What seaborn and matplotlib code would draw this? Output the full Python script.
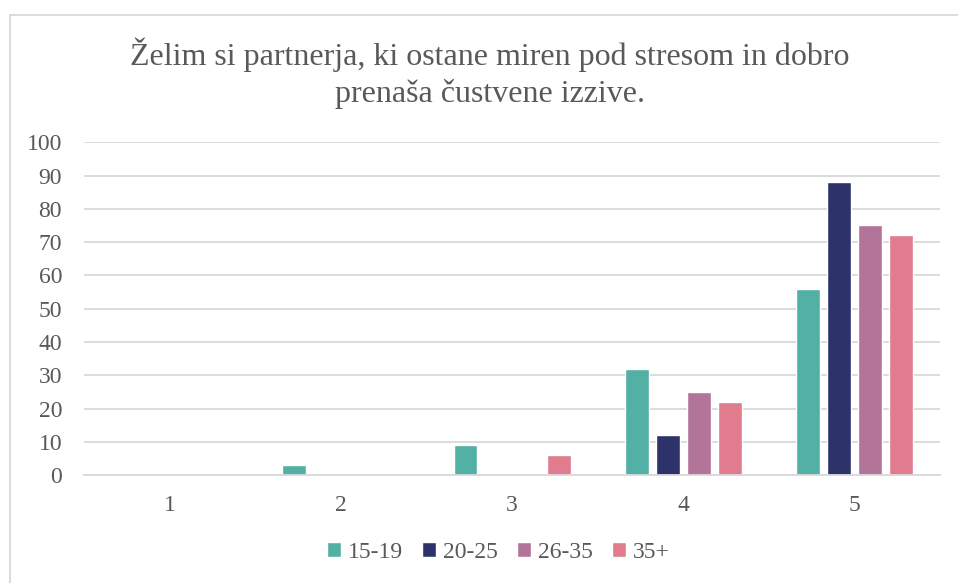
import pandas as pd
import matplotlib.pyplot as plt
import seaborn as sns
from matplotlib.patches import Rectangle


# Chart values
categories = ["1", "2", "3", "4", "5"]
age_groups = ["15-19", "20-25", "26-35", "35+"]
values_15_19 = [0, 3, 9, 32, 56]
values_20_25 = [0, 0, 0, 12, 88]
values_26_35 = [0, 0, 0, 25, 75]
values_35_plus = [0, 0, 6, 22, 72]
colors = ["#52B0A5", "#2E326B", "#B27499", "#E17B8E"]
title_lines = ["Želim si partnerja, ki ostane miren pod stresom in dobro", "prenaša čustvene izzive."]


def build_frame():
    rows = []
    for group, vals in zip(age_groups, [values_15_19, values_20_25, values_26_35, values_35_plus]):
        for cat, v in zip(categories, vals):
            rows.append({"Ocena": cat, "Starost": group, "Delež": v})
    return pd.DataFrame(rows)


def plot_bars(df, save_path=None):
    sns.set_style("white")
    plt.rcParams["font.family"] = ["Liberation Serif", "DejaVu Serif"]
    text_color = "#595959"

    fig = plt.figure(figsize=(9.58, 5.83), dpi=100)
    ax = fig.add_axes([0.088, 0.185, 0.893, 0.571])
    sns.barplot(data=df, x="Ocena", y="Delež", hue="Starost", palette=colors,
                width=0.725, gap=0.23, saturation=1, ax=ax)

    ax.set_ylim(0, 100)
    ax.set_xlim(-0.5, 4.5)
    ax.set_yticks(range(0, 101, 10))
    ax.yaxis.grid(True, color="#D9D9D9", linewidth=1.3)
    ax.set_axisbelow(True)
    for side in ["top", "right", "left"]:
        ax.spines[side].set_visible(False)
    ax.spines["bottom"].set_color("#D9D9D9")
    ax.spines["bottom"].set_linewidth(1.3)
    ax.tick_params(axis="both", length=0, labelsize=17, labelcolor=text_color)
    ax.tick_params(axis="y", pad=16)
    ax.tick_params(axis="x", pad=14)
    ax.set_xlabel("")
    ax.set_ylabel("")

    # Title, two lines as in the original chart
    fig.text(490 / 958, 0.8885, title_lines[0], ha="center", va="baseline",
             fontsize=23, color=text_color)
    fig.text(490 / 958, 0.825, title_lines[1], ha="center", va="baseline",
             fontsize=23, color=text_color)

    ax.legend(loc="center", bbox_to_anchor=(0.52, 0.053), bbox_transform=fig.transFigure,
              ncol=4, frameon=False, fontsize=17, labelcolor=text_color,
              handlelength=0.6, handleheight=0.6, handletextpad=0.3, columnspacing=0.8)

    # Chart area border
    fig.patches.append(Rectangle((10 / 958, -0.1), 1.1, 1.1 - 15 / 583, transform=fig.transFigure,
                                 fill=False, edgecolor="#D9D9D9", linewidth=1.3))

    if save_path:
        fig.savefig(save_path, dpi=100)


def main():
    df = build_frame()
    plot_bars(df, save_path="out.png")


if __name__ == "__main__":
    main()
